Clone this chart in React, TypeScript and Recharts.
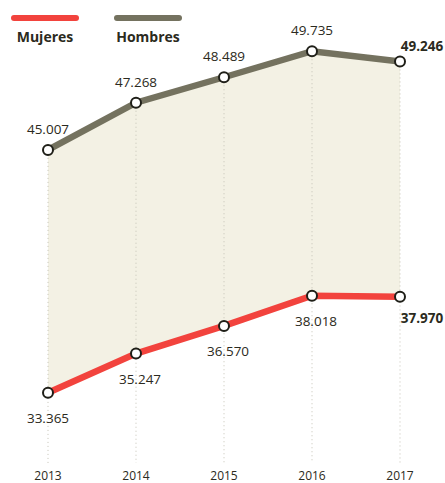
import React from "react"
import {
  ComposedChart,
  Line,
  Area,
  XAxis,
  YAxis,
  ReferenceLine,
  LabelList,
} from "recharts"

const years = [2013, 2014, 2015, 2016, 2017]
const mujeres = [33365, 35247, 36570, 38018, 37970]
const hombres = [45007, 47268, 48489, 49735, 49246]

const RED = "#f2433d"
const GRAY = "#74725f"
const TEXT = "#2b2a20"
const FONT = "'Open Sans', 'Noto Sans', sans-serif"

const data = years.map((year, i) => ({
  year,
  mujeres: mujeres[i],
  hombres: hombres[i],
  range: [mujeres[i], hombres[i]],
}))

// 45007 -> "45.007"
const fmt = (v: number) => String(Math.round(v)).replace(/\B(?=(\d{3})+(?!\d))/g, ".")

const makeLabel = (above: boolean) => (props: any) => {
  const { x, y, value, index } = props
  const last = index === years.length - 1
  let dx = 0
  if (last) dx = 22
  else if (!above && index > 0) dx = 4
  const dy = above ? (last ? -15 : -21) : last ? 21 : 25
  return (
    <text
      x={x + dx}
      y={y + dy}
      textAnchor="middle"
      dominantBaseline="central"
      fontFamily={FONT}
      fontSize={13.5}
      fontWeight={last ? 700 : 400}
      fill={TEXT}
    >
      {fmt(value)}
    </text>
  )
}

const dot = { r: 5, fill: "#fff", stroke: "#1f1f18", strokeWidth: 2 }

const LegendItem = ({ color, label, left }: { color: string; label: string; left: number }) => (
  <div style={{ position: "absolute", left, top: 15, width: 68 }}>
    <div style={{ height: 6, borderRadius: 3, background: color }} />
    <div
      style={{
        marginTop: 8,
        fontFamily: FONT,
        fontWeight: 700,
        fontSize: 14,
        color: TEXT,
        textAlign: "center",
        lineHeight: "16px",
      }}
    >
      {label}
    </div>
  </div>
)

export default function App() {
  return (
    <div style={{ position: "absolute", left: 0, top: 0, width: 445, height: 483, background: "#fff" }}>
      <ComposedChart
        width={445}
        height={483}
        data={data}
        margin={{ top: 4, right: 45, bottom: 0, left: 48 }}
      >
        <XAxis
          dataKey="year"
          type="number"
          domain={[2013, 2017]}
          ticks={years}
          axisLine={false}
          tickLine={false}
          height={20}
          tick={{ fontFamily: FONT, fontSize: 12, fill: TEXT }}
        />
        <YAxis hide domain={[30000, 52000]} />
        <Area
          dataKey="range"
          fill="#f3f1e4"
          fillOpacity={1}
          stroke="none"
          isAnimationActive={false}
        />
        {years.map((y, i) => (
          <ReferenceLine
            key={y}
            segment={[
              { x: y, y: hombres[i] },
              { x: y, y: 30000 },
            ]}
            stroke="#c4c2b6"
            strokeDasharray="1 3"
            strokeWidth={1}
          />
        ))}
        <Line
          dataKey="hombres"
          stroke={GRAY}
          strokeWidth={6.5}
          dot={dot}
          activeDot={false}
          isAnimationActive={false}
        >
          <LabelList dataKey="hombres" content={makeLabel(true)} />
        </Line>
        <Line
          dataKey="mujeres"
          stroke={RED}
          strokeWidth={6.5}
          dot={dot}
          activeDot={false}
          isAnimationActive={false}
        >
          <LabelList dataKey="mujeres" content={makeLabel(false)} />
        </Line>
      </ComposedChart>
      <LegendItem color={RED} label="Mujeres" left={11} />
      <LegendItem color={GRAY} label="Hombres" left={114} />
    </div>
  )
}
